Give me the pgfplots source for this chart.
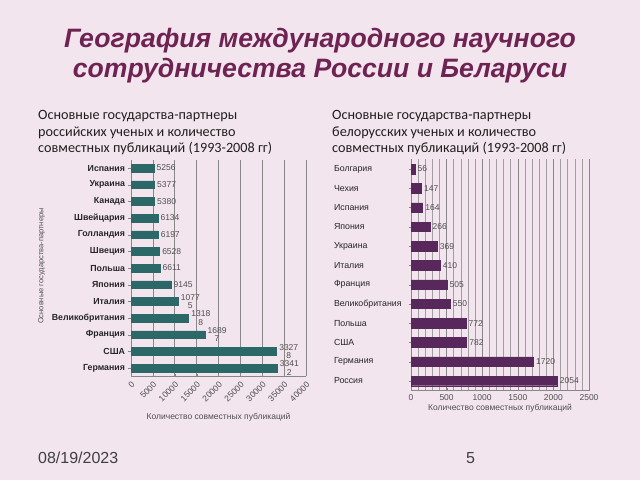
\documentclass[border=0pt]{standalone}
\usepackage{fontspec}
\setmainfont{Liberation Sans}
\newfontfamily\carlito{Carlito}
\usepackage{pgfplots}
\pgfplotsset{compat=1.18}
\definecolor{bg}{RGB}{243,229,238}
\definecolor{ttl}{RGB}{110,35,82}
\definecolor{barteal}{RGB}{44,104,104}
\definecolor{barpurple}{RGB}{88,40,92}
\definecolor{gridc}{RGB}{135,135,135}
\definecolor{txtgray}{RGB}{80,80,80}
\begin{document}
\begin{tikzpicture}
\fill[bg] (0bp,0bp) rectangle (640bp,480bp);
\useasboundingbox (0bp,0bp) rectangle (640bp,480bp);
% title
\node[ttl, anchor=base, font=\fontsize{26.6bp}{30bp}\selectfont\bfseries\itshape] at (320bp,432bp) {География международного научного};
\node[ttl, anchor=base, font=\fontsize{26.6bp}{30bp}\selectfont\bfseries\itshape] at (320bp,402bp) {сотрудничества России и Беларуси};
% subtitles
\begin{scope}[every node/.style={anchor=base west, inner sep=0pt, text=black!88, font=\carlito\fontsize{14.2bp}{17bp}\selectfont}]
\node at (38bp,360bp) {Основные государства-партнеры};
\node at (38bp,343.5bp) {российских ученых и количество};
\node at (38bp,327bp) {совместных публикаций (1993-2008 гг)};
\node at (332bp,360bp) {Основные государства-партнеры};
\node at (332bp,343.5bp) {белорусских ученых и количество};
\node at (332bp,327bp) {совместных публикаций (1993-2008 гг)};
\end{scope}
% footer
\node[anchor=base west, inner sep=0pt, text=black!75, font=\fontsize{16bp}{18bp}\selectfont] at (38bp,17bp) {08/19/2023};
\node[anchor=base west, inner sep=0pt, text=black!75, font=\fontsize{16bp}{18bp}\selectfont] at (466bp,17bp) {5};

% left chart
\begin{axis}[
  at={(131bp,320.3bp)}, anchor=north west,
  scale only axis, width=175bp, height=216.7bp,
  xbar, bar width=7.5bp,
  xmin=0, xmax=40000, ymin=-0.5, ymax=12.5,
  xtick={0,5000,...,40000},
  scaled x ticks=false,
  /pgf/number format/1000 sep={},
  /pgf/number format/assume math mode=true,
  ytick={0,...,12},
  yticklabels={Германия,США,Франция,Великобритания,Италия,Япония,Польша,Швеция,Голландия,Швейцария,Канада,Украина,Испания},
  yticklabel style={font=\bfseries\fontsize{8.8bp}{10bp}\selectfont, text=black!85},
  xticklabel style={rotate=45, anchor=north east, font=\fontsize{8.5bp}{10bp}\selectfont, text=txtgray},
  axis x line*=bottom, axis y line*=left,
  axis line style={gridc},
  xmajorgrids, grid style={gridc, line width=0.6pt},
  major tick length=2.5bp, tick style={gridc},
  xlabel={Количество совместных публикаций},
  xlabel style={font=\fontsize{8.5bp}{10bp}\selectfont, text=txtgray, at={(axis description cs:0.5,0)}, anchor=north, yshift=-33bp},
  ylabel={Основные государства-партнеры},
  ylabel style={font=\fontsize{7.5bp}{9bp}\selectfont, text=txtgray, xshift=2bp},
  nodes near coords, point meta=explicit symbolic,
  nodes near coords align={horizontal},
  every node near coord/.append style={font=\fontsize{8.5bp}{8.5bp}\selectfont, text=txtgray, align=center, anchor=west, inner xsep=2.5bp},
]
\addplot[fill=barteal, draw=barteal] coordinates {
(33412,0) [{3341\\2}]
(33278,1) [{3327\\8}]
(16897,2) [{1689\\7}]
(13188,3) [{1318\\8}]
(10775,4) [{1077\\5}]
(9145,5) [9145]
(6611,6) [6611]
(6528,7) [6528]
(6197,8) [6197]
(6134,9) [6134]
(5380,10) [5380]
(5377,11) [5377]
(5256,12) [5256]
};
\end{axis}

% right chart
\begin{axis}[
  at={(411bp,320.6bp)}, anchor=north west,
  scale only axis, width=178bp, height=231.2bp,
  xbar, bar width=9.5bp,
  xmin=0, xmax=2500, ymin=-0.5, ymax=11.5,
  xtick={0,500,...,2500},
  minor x tick num=4,
  scaled x ticks=false,
  /pgf/number format/1000 sep={},
  /pgf/number format/assume math mode=true,
  ytick={0,...,11},
  yticklabels={Россия,Германия,США,Польша,Великобритания,Франция,Италия,Украина,Япония,Испания,Чехия,Болгария},
  yticklabel style={font=\fontsize{8.8bp}{10bp}\selectfont, text=black!85, anchor=west, xshift=-78bp},
  xticklabel style={font=\fontsize{8.5bp}{10bp}\selectfont, text=txtgray},
  axis x line*=bottom, axis y line*=left,
  axis line style={gridc},
  xmajorgrids, xminorgrids, grid style={gridc, line width=0.6pt},
  minor grid style={gridc!80, line width=0.5pt},
  major tick length=2.5bp, minor tick length=0pt, tick style={gridc},
  xlabel={Количество совместных публикаций},
  xlabel style={font=\fontsize{8.5bp}{10bp}\selectfont, text=txtgray, at={(axis description cs:0.5,0)}, anchor=north, yshift=-10bp},
  nodes near coords, point meta=explicit symbolic,
  nodes near coords align={horizontal},
  every node near coord/.append style={font=\fontsize{8.5bp}{8.5bp}\selectfont, text=txtgray, anchor=west, inner xsep=2.5bp},
]
\addplot[fill=barpurple, draw=barpurple] coordinates {
(2054,0) [2054]
(1720,1) [1720]
(782,2) [782]
(772,3) [772]
(550,4) [550]
(505,5) [505]
(410,6) [410]
(369,7) [369]
(266,8) [266]
(164,9) [164]
(147,10) [147]
(56,11) [56]
};
\end{axis}
\end{tikzpicture}
\end{document}
